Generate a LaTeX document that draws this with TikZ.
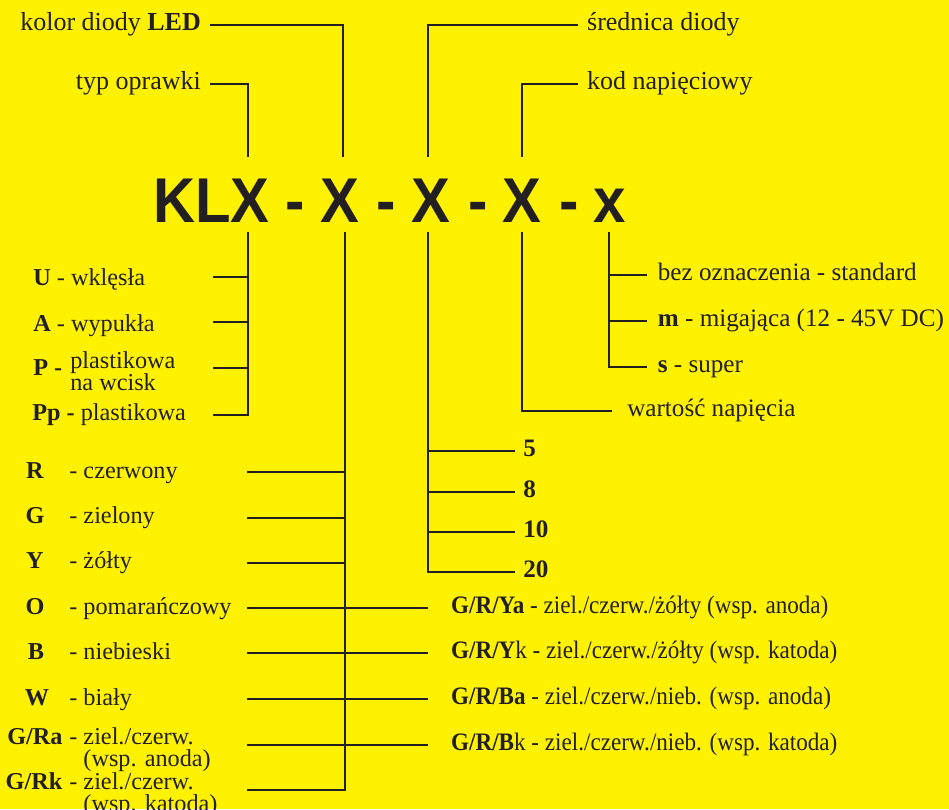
\documentclass[tikz,border=0pt]{standalone}
\usepackage{fontspec}
\setmainfont{Liberation Serif}
\newfontfamily\codefont{Liberation Sans}[FakeStretch=0.92]
\newfontfamily\narrowserif{Liberation Serif}[FakeStretch=0.92]
\usepackage{xcolor}
\usepackage{tikz}

\definecolor{bgyellow}{HTML}{FFF200}
\definecolor{ink}{HTML}{231F20}
\newcommand{\twoline}[2]{\begin{tabular}[t]{@{}l@{}}#1\\#2\end{tabular}}

\tikzset{
	thinlead/.style={draw=ink, line width=0.6pt},
	lead/.style={draw=ink, line width=1.4pt},
	lbl/.style={text=ink, inner sep=0pt, font=\fontsize{14.3}{11}\selectfont,
		text height=9.7pt, text depth=2.9pt},
	toplbl/.style={lbl, inner xsep=5pt, font=\fontsize{14.8}{11}\selectfont},
	leftlbl/.style={lbl, font=\fontsize{13.8}{10.8}\selectfont},
	codeletter/.style={text=ink, inner sep=0pt, anchor=base,
		font=\codefont\bfseries\fontsize{36}{40}\selectfont}
}

\begin{document}
\begin{tikzpicture}[x=0.02cm, y=-0.02cm]
				\useasboundingbox (0,0) rectangle (949,809);
				\fill[bgyellow] (0,0) rectangle (949,809);

				\begin{scope}[every node/.style={codeletter}]
				    \node (klx) at (211.5,222) {KLX};
				    \node (d1) at (295.5,222) {-};
				    \node (xa) at (340,222) {X};
				    \node (d2) at (386.5,222) {-};
				    \node (xb) at (431,222) {X};
				    \node (d3) at (478,222) {-};
				    \node (xc) at (522,222) {X};
				    \node (d4) at (569,222) {-};
				    \node (xd) at (609.5,222) {x};
				\end{scope}

				\coordinate (tK) at (248,157);
				\coordinate (tA) at (343,157);
				\coordinate (tB) at (428,157);
				\coordinate (tC) at (522,157);
				\coordinate (bK) at (248,232);
				\coordinate (bA) at (345,232);
				\coordinate (bB) at (428,232);
				\coordinate (bC) at (522,232);
				\coordinate (bD) at (609,232);

				\begin{scope}[every node/.style={toplbl}]
				    \node[anchor=east] (kolor) at (210,25) {kolor diody \textbf{LED}};
				    \node[anchor=east] (typ) at (210,84) {typ oprawki};
				    \node[anchor=west] (sred) at (578,25) {średnica diody};
				    \node[anchor=west] (kod) at (578,84) {kod napięciowy};
				\end{scope}
				\draw[thinlead] (kolor.east) -| (tA);
				\draw[thinlead] (typ.east) -| (tK);
				\draw[thinlead] (sred.west) -| (tB);
				\draw[thinlead] (kod.west) -| (tC);

				\begin{scope}[every node/.style={leftlbl, anchor=base west}]
				    \node (lU) at (33,285) {\textbf{U} - wklęsła};
				    \node (lA) at (33,331) {\textbf{A} - wypukła};
				    \node (lP) at (33,375) {\textbf{P -}};
				    \node (lPl) at (70,368) {\twoline{plastikowa}{na wcisk}};
				    \node (lPp) at (32,420) {\textbf{Pp -} plastikowa};
				\end{scope}
				\coordinate (kU) at (213,277);
				\coordinate (kA) at (213,322);
				\coordinate (kP) at (213,368);
				\coordinate (kPp) at (213,415);
				\draw[lead] (bK) |- (kPp);
				\foreach \c in {kU,kA,kP}
				    \draw[lead] (\c) -- (\c -| bK);

				\begin{scope}[every node/.style={lbl, anchor=west, inner xsep=6pt}]
				    \node (dStd) at (647,275) {bez oznaczenia - standard};
				    \node (dM) at (647,321) {\textbf{m} - migająca (12 - 45V DC)};
				    \node (dS) at (647,367) {\textbf{s} - super};
				\end{scope}
				\draw[lead] (bD) |- (dS.west);
				\draw[lead] (dStd.west) -- (dStd.west -| bD);
				\draw[lead] (dM.west) -- (dM.west -| bD);

				\node[lbl, anchor=west, inner xsep=8.5pt] (cWart) at (612,411) {wartość napięcia};
				\draw[lead] (bC) |- (cWart.west);

				\begin{scope}[every node/.style={lbl, anchor=west, inner xsep=4.5pt, font=\fontsize{14.3}{11}\selectfont\bfseries}]
				    \node (n5) at (515,451) {5};
				    \node (n8) at (515,492) {8};
				    \node (n10) at (515,532) {10};
				    \node (n20) at (515,572) {20};
				\end{scope}
				\draw[lead] (bB) |- (n20.west);
				\foreach \n in {n5,n8,n10}
				    \draw[lead] (\n.west) -- (\n.west -| bB);

				\begin{scope}[every node/.style={lbl, anchor=west, inner xsep=13pt, font=\narrowserif\fontsize{14.3}{11}\selectfont}]
				    \node (rYa) at (428,608) {\textbf{G/R/Ya} - ziel./czerw./żółty (wsp. anoda)};
				    \node (rYk) at (428,653) {\textbf{G/R/Y}k - ziel./czerw./żółty (wsp. katoda)};
				    \node (rBa) at (428,699) {\textbf{G/R/Ba} - ziel./czerw./nieb. (wsp. anoda)};
				    \node (rBk) at (428,745) {\textbf{G/R/B}k - ziel./czerw./nieb. (wsp. katoda)};
				\end{scope}
				\foreach \r in {rYa,rYk,rBa,rBk}
				    \draw[lead] (\r.west) -- (\r.west -| bA);

				\begin{scope}[every node/.style={leftlbl, anchor=base, font=\fontsize{13.8}{10.8}\selectfont\bfseries}]
				    \node (sR) at (35,478) {R};
				    \node (sG) at (35,523) {G};
				    \node (sY) at (35,568) {Y};
				    \node (sO) at (35,614) {O};
				    \node (sB) at (36,659) {B};
				    \node (sW) at (37,705) {W};
				    \node (sGRa) at (35,744) {G/Ra};
				    \node (sGRk) at (34,789) {G/Rk};
				\end{scope}
				\begin{scope}[every node/.style={leftlbl, anchor=base west}]
				    \node (eR) at (69,478) {- czerwony};
				    \node (eG) at (69,523) {- zielony};
				    \node (eY) at (69,568) {- żółty};
				    \node (eO) at (69,614) {- pomarańczowy};
				    \node (eB) at (69,659) {- niebieski};
				    \node (eW) at (69,705) {- biały};
				    \node (eGRa) at (69,744) {\twoline{- ziel./czerw.}{\hphantom{- }(wsp. anoda)}};
				    \node (eGRk) at (69,789) {\twoline{- ziel./czerw.}{\hphantom{- }(wsp. katoda)}};
				\end{scope}
				\coordinate (cR) at (247,472);
				\coordinate (cG) at (247,518);
				\coordinate (cY) at (247,563);
				\coordinate (cO) at (247,608);
				\coordinate (cB) at (247,653);
				\coordinate (cW) at (247,699);
				\coordinate (cGRa) at (247,745);
				\coordinate (cGRk) at (247,790);
				\draw[lead] (bA) |- (cGRk);
				\foreach \c in {cR,cG,cY,cO,cB,cW,cGRa}
				    \draw[lead] (\c) -- (\c -| bA);
\end{tikzpicture}
\end{document}
